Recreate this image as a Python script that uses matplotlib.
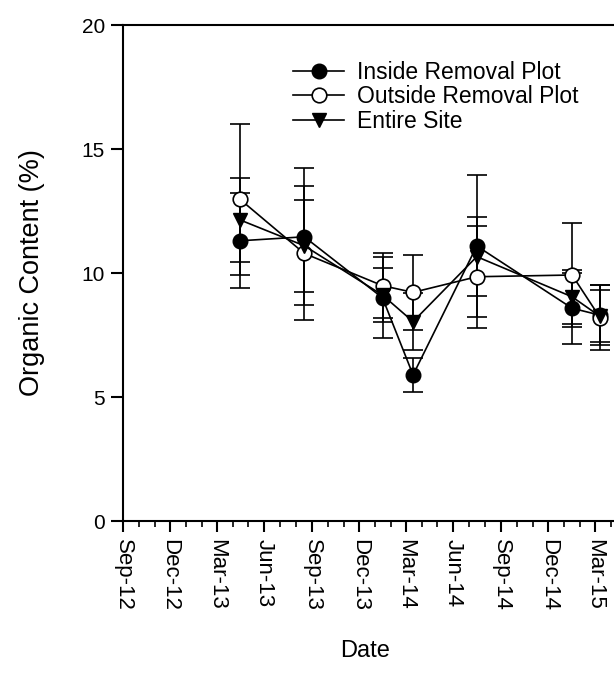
import numpy as np
import matplotlib
matplotlib.use("Agg")
import matplotlib.pyplot as plt
import matplotlib.dates as mdates
import datetime as dt

plt.rcParams['font.family'] = ['Liberation Sans', 'DejaVu Sans']

# sampling dates
dates = [dt.date(2013, 4, 15), dt.date(2013, 8, 17), dt.date(2014, 1, 15),
         dt.date(2014, 3, 15), dt.date(2014, 7, 16), dt.date(2015, 1, 16),
         dt.date(2015, 3, 11)]

# organic content (%) and error
inside = [11.3, 11.46, 9.0, 5.89, 11.09, 8.58, 8.3]
inside_err = [1.92, 2.76, 1.63, 0.7, 2.86, 1.44, 1.2]
outside = [12.97, 10.79, 9.49, 9.22, 9.85, 9.92, 8.2]
outside_err = [3.03, 2.7, 1.3, 1.5, 2.05, 2.08, 1.3]
entire = [12.14, 11.1, 9.11, 8.04, 10.66, 9.04, 8.25]
entire_err = [1.68, 1.85, 1.1, 1.14, 1.6, 1.1, 1.05]

labels = ['Inside Removal Plot', 'Outside Removal Plot', 'Entire Site']

fig = plt.figure(figsize=(6.14, 6.89), dpi=100)
# axes runs a bit past the right edge (the original is cropped there)
ax_w = 0.808
ax = fig.add_axes([0.2003, 0.2438, ax_w, 0.7199])

kw = dict(color='black', lw=1.2, elinewidth=1.2, capsize=7, capthick=1.2, ms=10.5, clip_on=False)
ax.errorbar(dates, inside, yerr=inside_err, marker='o', mfc='black', mec='black', label=labels[0], **kw)
ax.errorbar(dates, outside, yerr=outside_err, marker='o', mfc='white', mec='black', mew=1.2, label=labels[1], **kw)
ax.errorbar(dates, entire, yerr=entire_err, marker='v', mfc='black', mec='black', label=labels[2], **kw)

# x-limits: Sep-12 at axes left, scale ~0.518 px/day
left = mdates.date2num(dt.date(2012, 9, 1))
width_px = ax_w * 614
ax.set_xlim(left, left + width_px / 0.518)
ax.set_ylim(0, 20)
ax.set_yticks([0, 5, 10, 15, 20])

ax.xaxis.set_major_locator(mdates.MonthLocator(bymonth=[3, 6, 9, 12]))
ax.xaxis.set_minor_locator(mdates.MonthLocator())
ax.xaxis.set_major_formatter(mdates.DateFormatter('%b-%y'))

ax.tick_params(axis='both', which='major', direction='out', width=1.5, colors='black')
ax.tick_params(axis='y', which='major', length=9, pad=4, labelsize=15)
ax.tick_params(axis='x', which='major', length=8, pad=5, labelsize=16)
ax.tick_params(axis='x', which='minor', direction='out', length=4, width=1.2)
for lab in ax.get_xticklabels():
    lab.set_rotation(-90)
    lab.set_va('top')
    lab.set_ha('center')

for s in ax.spines.values():
    s.set_linewidth(1.5)

ax.set_ylabel('Organic Content (%)', fontsize=19.5, labelpad=26)
ax.set_xlabel('Date', fontsize=17)
ax.xaxis.set_label_coords(242 / width_px, -0.24)

handles, labs = ax.get_legend_handles_labels()
handles = [h[0] for h in handles]
fig.legend(handles, labs, loc='upper left', bbox_to_anchor=(0.478, 0.912),
           frameon=False, fontsize=16.5, handlelength=2.2, handletextpad=0.55,
           labelspacing=0.08, borderpad=0, borderaxespad=0)

fig.savefig('out.png', dpi=100)
